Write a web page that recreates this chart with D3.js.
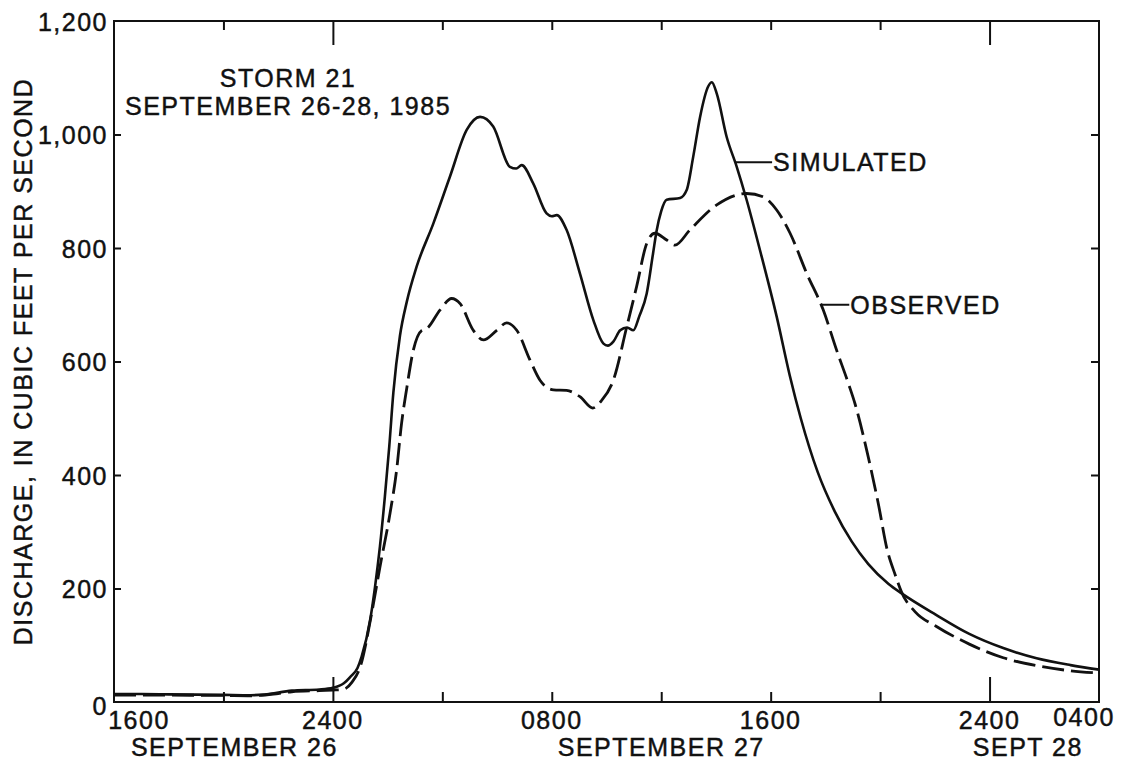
<!DOCTYPE html>
<html><head><meta charset="utf-8">
<script src="https://cdn.jsdelivr.net/npm/d3@7"></script>
<style>
body{margin:0;background:#fff}
svg text{font-family:"Liberation Sans",Arial,Helvetica,sans-serif;fill:#111;stroke:#111;stroke-width:0.45px;font-size:25px;letter-spacing:1.5px}
</style></head><body>
<svg id="c" width="1128" height="761"></svg>
<script>
// hours since 1600, September 26, 1985
const simHours = [0,1,2,3,4,5,5.5,6.5,7.5,8,8.4,8.63,8.9,9.05,9.36,9.54,9.72,9.9,10.06,10.21,10.45,10.7,11.06,11.67,12.28,12.89,13.38,13.86,14.47,14.7,14.9,15.32,15.81,16,16.18,16.54,17.03,17.52,17.88,18.05,18.25,18.5,18.75,18.98,19.2,19.47,19.7,19.83,20,20.2,20.69,20.93,21.17,21.42,21.72,21.85,22.03,22.39,22.76,23.12,23.61,24.22,24.7,25.1,25.72,26.34,26.96,27.57,28.31,28.8,30.03,31.26,32.5,33.72,34.96,36];
const simCfs = [14,14,13.5,13,12.5,12,13,20,22,25,33,44,60,80,144,203,274,362,450,545,645,705,767,843,926,1008,1031,1014,943,940,946,914,861,856,858,832,755,673,632,628,635,655,660,655,680,720,790,830,865,885,888,902,961,1031,1085,1092,1072,996,943,885,796,679,575,500,405,336,283,243,208,191,154,120,95,77,65,57];
const obsHours = [0,2,4,5,6,6.5,7.5,8,8.37,8.7,9,9.42,9.72,10.09,10.33,10.51,10.7,10.94,11.25,11.43,11.92,12.34,12.65,13.13,13.5,13.99,14.35,14.72,15.2,15.57,16.06,16.54,17.03,17.5,17.8,18.25,18.74,19.1,19.47,19.77,20.2,20.5,21.05,22.03,23.12,23.73,24.22,24.71,25.32,25.92,26.41,26.85,27.08,27.57,27.94,28.25,28.56,28.78,29.3,30.03,31.26,32.5,33.72,34.96,36];
const obsCfs = [12,12,11.5,11,15,18,20,21,22,35,62,157,238,333,409,491,553,620,655,658,691,711,702,655,638,655,668,655,603,567,550,549,538,518,530,567,661,732,808,826,814,805,832,876,896,890,867,826,755,691,620,560,526,431,348,270,223,194,158,134,102,78,64,55,51];

const tickHours = [0,4,8,12,16,20,24,28,32,36];
const midnightHours = [8,32];
const timeLabelHours = [0,8,16,24,32,36];
const timeLabels = ["1600","2400","0800","1600","2400","0400"];
const dayLabels = ["SEPTEMBER 26","SEPTEMBER 27","SEPT 28"];
const dayLabelHours = [4.4,20,33.4];
const yTicks = [0,200,400,600,800,1000,1200];
const titleLines = ["STORM 21","SEPTEMBER 26-28, 1985"];
const yTitle = "DISCHARGE, IN CUBIC FEET PER SECOND";
const seriesNames = ["SIMULATED","OBSERVED"];
const seriesLabelAt = [[22.7,951],[25.85,700]];

const L=114,R=1099,T=21,B=702;
const svg = d3.select("#c");
const x = d3.scaleLinear().domain([0,36]).range([L,R]);
const y = d3.scaleLinear().domain([0,1200]).range([B,T]);

// frame
svg.append("rect").attr("x",L).attr("y",T).attr("width",R-L).attr("height",B-T)
  .attr("fill","none").attr("stroke","#111").attr("stroke-width",2);

function clean(g){
  g.select(".domain").remove();
  g.attr("font-family",null).attr("font-size",null);
  g.selectAll("line").attr("stroke","#111").attr("stroke-width",2);
}
// left axis
const gl = svg.append("g").attr("transform",`translate(${L},0)`)
  .call(d3.axisLeft(y).tickValues(yTicks).tickSize(-7).tickPadding(6).tickFormat(d3.format(",")));
clean(gl);
gl.selectAll(".tick").filter(d=>d===0||d===1200).select("line").remove();
gl.selectAll("text").attr("dy","0.36em").attr("fill","#111");
gl.selectAll(".tick").filter(d=>d===0).select("text").attr("dy","0.5em");
// right axis
const gr = svg.append("g").attr("transform",`translate(${R},0)`)
  .call(d3.axisRight(y).tickValues(yTicks.slice(1,-1)).tickSize(-8).tickFormat(""));
clean(gr);
// bottom ticks
const gb = svg.append("g").attr("transform",`translate(0,${B})`)
  .call(d3.axisBottom(x).tickValues(tickHours.slice(1,-1)).tickSize(-10).tickFormat(""));
clean(gb);
gb.selectAll(".tick line").attr("y2",d=>midnightHours.includes(d)?-25:-10);
// top ticks
const gt = svg.append("g").attr("transform",`translate(0,${T})`)
  .call(d3.axisTop(x).tickValues(tickHours.slice(1,-1)).tickSize(-9).tickFormat(""));
clean(gt);
gt.selectAll(".tick line").attr("y2",d=>midnightHours.includes(d)?24:9);

// time labels
const nT = timeLabelHours.length;
svg.selectAll(".tl").data(timeLabelHours).join("text").attr("class","tl")
  .attr("text-anchor","middle")
  .attr("x",(d,i)=>x(d)+(i===0?25:(i===nT-1?-15:0)))
  .attr("y",(d,i)=>i===nT-1?726:729)
  .text((d,i)=>timeLabels[i]);
svg.selectAll(".dl").data(dayLabelHours).join("text").attr("class","dl")
  .attr("text-anchor","middle")
  .attr("x",d=>x(d)).attr("y",756)
  .text((d,i)=>dayLabels[i]);

// title
svg.selectAll(".tt").data(titleLines).join("text").attr("class","tt")
  .attr("text-anchor","middle").attr("x",288).attr("y",(d,i)=>87+i*28).text(d=>d);

// y title
svg.append("text").attr("transform",`translate(32,${(T+B)/2}) rotate(-90)`)
  .attr("text-anchor","middle").text(yTitle);

// series
const line = d3.line().curve(d3.curveMonotoneX);
const simPts = simHours.map((h,i)=>[x(h),y(simCfs[i])]);
const obsPts = obsHours.map((h,i)=>[x(h),y(obsCfs[i])]);
svg.append("path").attr("d",line(simPts)).attr("fill","none").attr("stroke","#111").attr("stroke-width",2.6);
svg.append("path").attr("d",line(obsPts)).attr("fill","none").attr("stroke","#111").attr("stroke-width",2.8)
  .attr("stroke-dasharray","22,7");

// series labels with leaders
const leadLen = [37,28];
seriesLabelAt.forEach((p,i)=>{
  const x0 = x(p[0]), y0 = y(p[1]);
  svg.append("line").attr("x1",x0).attr("x2",x0+leadLen[i]).attr("y1",y0).attr("y2",y0)
    .attr("stroke","#111").attr("stroke-width",2);
  svg.append("text").attr("x",x0+leadLen[i]+1).attr("y",y0).attr("dy","0.36em").text(seriesNames[i]);
});
</script>
</body></html>
